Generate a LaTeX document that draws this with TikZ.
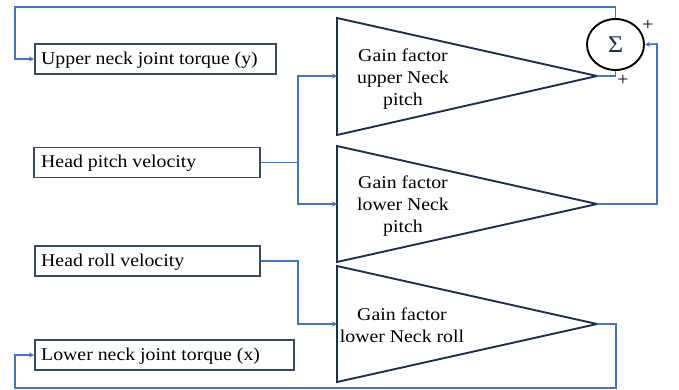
\documentclass[tikz,border=0pt]{standalone}
\usepackage{fontspec}
\setmainfont{Liberation Serif}[FakeStretch=1.1]
\usetikzlibrary{arrows.meta,shapes.geometric}
\definecolor{wire}{HTML}{4472C4}
\definecolor{navy}{HTML}{1F2F4F}
\definecolor{boxc}{HTML}{3A4A5E}
\begin{document}
\begin{tikzpicture}[x=1pt,y=-1pt,
  inbox/.style={draw=boxc,line width=1.6pt,minimum height=30pt,anchor=west,inner sep=0pt},
  txt/.style={anchor=west,inner sep=0pt,font=\fontsize{18}{20}\selectfont},
  wire/.style={draw=wire,line width=1.6pt},
  arr/.style={wire,-{Stealth[length=5pt,width=5pt]}},
  tri/.style={draw=navy,line width=1.9pt},
  lbl/.style={font=\fontsize{18}{22}\selectfont,align=center,inner sep=0pt}]
\useasboundingbox (0,0) rectangle (679,390);
% boxes
\node[inbox,minimum width=241pt] (b1) at (34,59) {};
\node[txt] (b1t) at (41,60) {Upper neck joint torque (y)};
\node[inbox,minimum width=226pt] (b2) at (33,162.5) {};
\node[txt] (b2t) at (41,163.5) {Head pitch velocity};
\node[inbox,minimum width=225pt] (b3) at (34,261) {};
\node[txt] (b3t) at (41,262) {Head roll velocity};
\node[inbox,minimum width=259pt] (b4) at (34,355) {};
\node[txt] (b4t) at (41,356) {Lower neck joint torque (x)};
% triangles
\coordinate (t1) at (597,76);
\coordinate (t2) at (597,204);
\coordinate (t3) at (597,324);
\draw[tri] (337,18) -- (t1) -- (337,135) -- cycle;
\draw[tri] (337,146) -- (t2) -- (337,262) -- cycle;
\draw[tri] (337,266) -- (t3) -- (337,382) -- cycle;
\coordinate (t1in) at (337,76);
\coordinate (t2in) at (337,204);
\coordinate (t3in) at (337,324);
\node[lbl] (l1) at (403,79) {Gain factor\\upper Neck\\pitch};
\node[lbl] (l2) at (403,206) {Gain factor\\lower Neck\\pitch};
\node[lbl] (l3) at (402,325) {Gain factor\\lower Neck roll};
% sum
\node[draw=black,line width=1.9pt,ellipse,minimum width=57pt,minimum height=51pt,inner sep=0pt,font=\fontsize{24}{24}\selectfont,text=navy] (s) at (615.5,44.5) {Σ};
\node[font=\fontsize{18}{18}\selectfont,inner sep=0pt] (p1) at (648,25) {+};
\node[font=\fontsize{18}{18}\selectfont,inner sep=0pt] (p2) at (623,80) {+};
% wires
\draw[arr] (s.north) |- (15,7) |- (b1.west);
\draw[wire] (t1) -| (s.south);
\draw[arr] (t2) -| (657,44) -- (s.east);
\draw[wire] (b2.east) -- (298,162.5);
\draw[arr] (298,162.5) |- (t1in);
\draw[arr] (298,162.5) |- (t2in);
\draw[arr] (b3.east) -| (298,324) -- (t3in);
\draw[arr] (t3) -| (616,388) -| (15,355) -- (b4.west);
\end{tikzpicture}
\end{document}
